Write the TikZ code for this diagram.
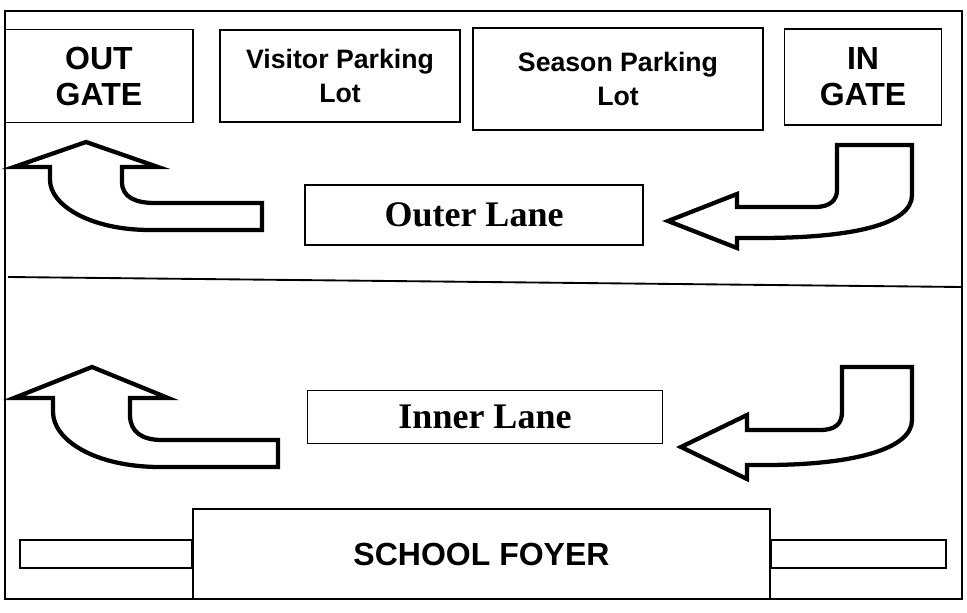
\documentclass[tikz,border=0pt]{standalone}
\usepackage{fontspec}
\usepackage{tikz}
\setmainfont{Liberation Serif}
\setsansfont{Liberation Sans}

\newlength\px
\setlength\px{0.75pt}

\tikzset{
  lotbox/.style={draw, line width=1.4pt, inner sep=0pt, align=center,
    font=\sffamily\bfseries\fontsize{20pt}{26pt}\selectfont},
  gatebox/.style={lotbox, font=\sffamily\bfseries\fontsize{24pt}{27pt}\selectfont},
  lanebox/.style={draw, line width=1.3pt, inner sep=0pt,
    font=\rmfamily\bfseries\fontsize{27pt}{30pt}\selectfont},
  turnarrow/.style={draw, line width=3.2pt, line join=miter, fill=white}
}

\begin{document}
\begin{tikzpicture}[x=0.75pt,y=-0.75pt]
  \useasboundingbox (0,0) rectangle (967,613);

  % outer frame
  \draw[line width=1.4pt] (5,11) rectangle (962,599);

  % top row
  \node[gatebox, minimum width=188\px, minimum height=93\px] (outgate) at (99,76) {OUT\\GATE};
  \node[lotbox, minimum width=240\px, minimum height=92\px] (visitor) at (340,76) {Visitor Parking\\Lot};
  \node[lotbox, minimum width=290\px, minimum height=102\px] (season) at (618,79) {Season Parking\\Lot};
  \node[gatebox, minimum width=157\px, minimum height=96\px] (ingate) at (863,77) {IN\\GATE};

  % outer lane
  \node[lanebox, minimum width=338\px, minimum height=60\px] (outer) at (474,215) {Outer Lane};
  \draw[turnarrow] (86,142) -- (158,167) -- (122,167) -- (122,182)
    .. controls (122,197) and (135,203) .. (155,203) -- (262,203) -- (262,230) -- (150,230)
    .. controls (90,230) and (50,205) .. (50,180) -- (50,167) -- (14,167) -- cycle;
  \draw[turnarrow] (668,221) -- (737,194) -- (737,207) -- (815,207)
    .. controls (830,207) and (837,200) .. (837,190) -- (837,145) -- (912,145) -- (912,195)
    .. controls (912,225) and (850,238) .. (760,238) -- (737,238) -- (737,248) -- cycle;

  % divider
  \draw[line width=1.4pt] (8,277) -- (962,287);

  % inner lane
  \node[lanebox, minimum width=355\px, minimum height=53\px] (inner) at (485,417) {Inner Lane};
  \draw[turnarrow] (92,367) -- (168,398) -- (130,398) -- (130,415)
    .. controls (130,432) and (142,440) .. (162,440) -- (278,440) -- (278,467) -- (160,467)
    .. controls (95,467) and (53,440) .. (53,412) -- (53,398) -- (14,398) -- cycle;
  \draw[turnarrow] (681,447) -- (747,415) -- (747,430) -- (820,430)
    .. controls (835,430) and (842,424) .. (842,412) -- (842,367) -- (912,367) -- (912,420)
    .. controls (912,450) and (850,465) .. (765,465) -- (747,465) -- (747,479) -- cycle;

  % foyer
  \node[gatebox, minimum width=577\px, minimum height=90\px] (foyer) at (481.5,554) {SCHOOL FOYER};
  \draw[line width=1.4pt] (20,540) rectangle (foyer.west |- 0,568);
  \draw[line width=1.4pt] (foyer.east |- 0,540) rectangle (946,568);
\end{tikzpicture}
\end{document}
